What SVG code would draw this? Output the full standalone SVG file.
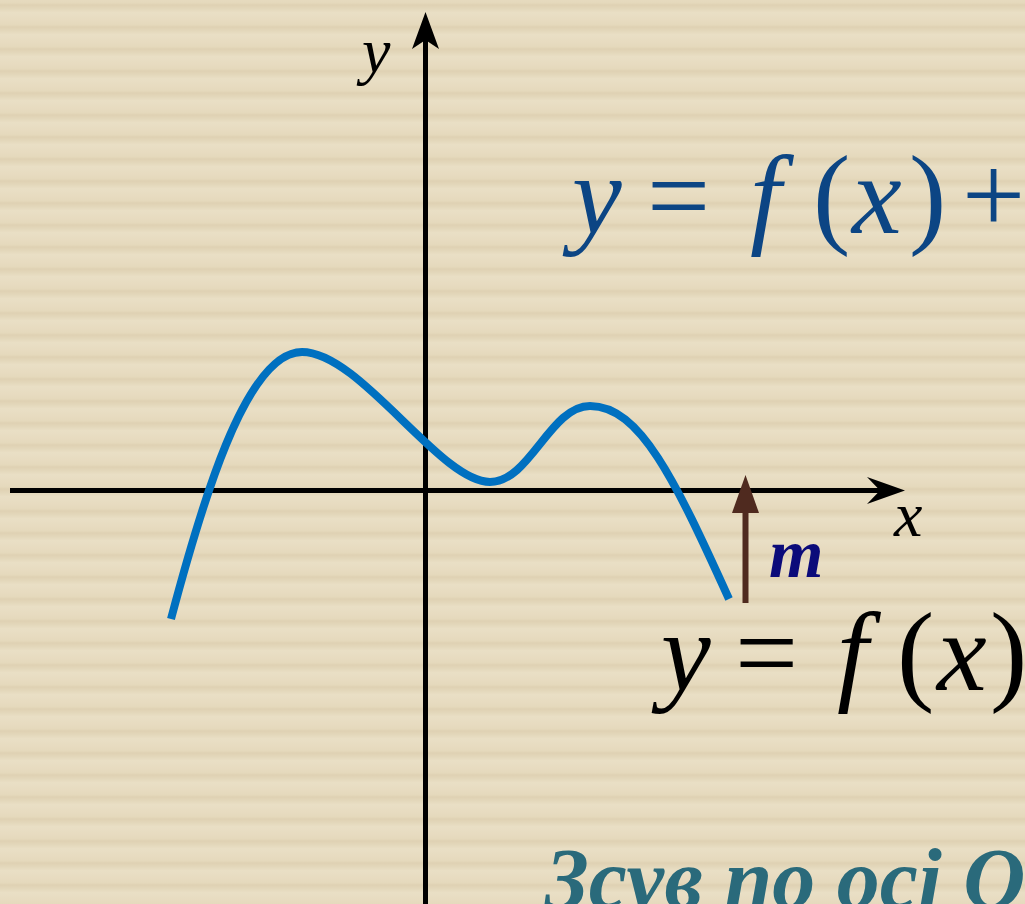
<svg xmlns="http://www.w3.org/2000/svg" width="1025" height="904" viewBox="0 0 1025 904">
<defs>
<linearGradient id="stripe" x1="0" y1="0" x2="0" y2="1">
<stop offset="0" stop-color="#dfd1b3"/>
<stop offset="0.15" stop-color="#e3d7ba"/>
<stop offset="0.35" stop-color="#e9dfc5"/>
<stop offset="0.7" stop-color="#e7dbc0"/>
<stop offset="0.9" stop-color="#e5d9bc"/>
<stop offset="1" stop-color="#dfd1b3"/>
</linearGradient>
<pattern id="bg" x="0" y="5" width="1025" height="22" patternUnits="userSpaceOnUse">
<rect width="1025" height="22" fill="url(#stripe)"/>
</pattern>
<style>
.axis{stroke:#000;stroke-width:5;fill:none}
.mi{font-family:"Liberation Serif","Times New Roman",serif;font-style:italic}
.mu{font-family:"Liberation Serif","Times New Roman",serif}
.blue{fill:#0c4584}
.blk{fill:#000}
</style>
</defs>
<rect width="1025" height="904" fill="#e7dbc0"/>
<rect width="1025" height="904" fill="url(#bg)"/>
<g id="axes">
<line class="axis" x1="10" y1="490.5" x2="882" y2="490.5"/>
<path d="M905,490.5 L867,477 L880,490.5 L867,504 Z" fill="#000"/>
<line class="axis" x1="425.5" y1="904" x2="425.5" y2="38"/>
<path d="M425.5,12 L439,49 L425.5,40 L412,49 Z" fill="#000"/>
<text class="mi blk" x="362" y="72" font-size="64">y</text>
<text class="mi blk" x="894" y="536" font-size="64">x</text>
</g>
<g id="curve">
<path d="M171,619 C200,510 245,352 302,352 C360,352 440,482 490,482 C530,482 550,406 590,406 C640,406 675,480 729,599" fill="none" stroke="#0070c0" stroke-width="8"/>
</g>
<g id="shift-arrow">
<line x1="745.5" y1="603" x2="745.5" y2="505" stroke="#4f2a1f" stroke-width="6"/>
<path d="M745.5,475 L759,513 L732,513 Z" fill="#4f2a1f"/>
<text x="769" y="577" font-size="70" font-family="Liberation Serif,Times New Roman,serif" font-style="italic" font-weight="bold" fill="#0b0b7a">m</text>
</g>
<g id="formula-shifted" class="blue" font-size="112">
<text class="mi" x="572" y="233">y</text>
<text class="mu" x="647" y="233">=</text>
<text class="mi" x="750" y="233">f</text>
<text class="mu" x="813" y="233">(</text>
<text class="mi" x="852" y="233">x</text>
<text class="mu" x="909" y="233">)</text>
<text class="mu" x="962" y="233">+</text>
</g>
<g id="formula-original" class="blk" font-size="112">
<text class="mi" x="661" y="690">y</text>
<text class="mu" x="735" y="690">=</text>
<text class="mi" x="837" y="690">f</text>
<text class="mu" x="897" y="690">(</text>
<text class="mi" x="937" y="690">x</text>
<text class="mu" x="990" y="690">)</text>
</g>
<g id="title">
<text x="545" y="908" font-size="86" font-family="Liberation Serif,Times New Roman,serif" font-style="italic" font-weight="bold" fill="#2a6a7b">Зсув по осі О</text>
</g>
</svg>
